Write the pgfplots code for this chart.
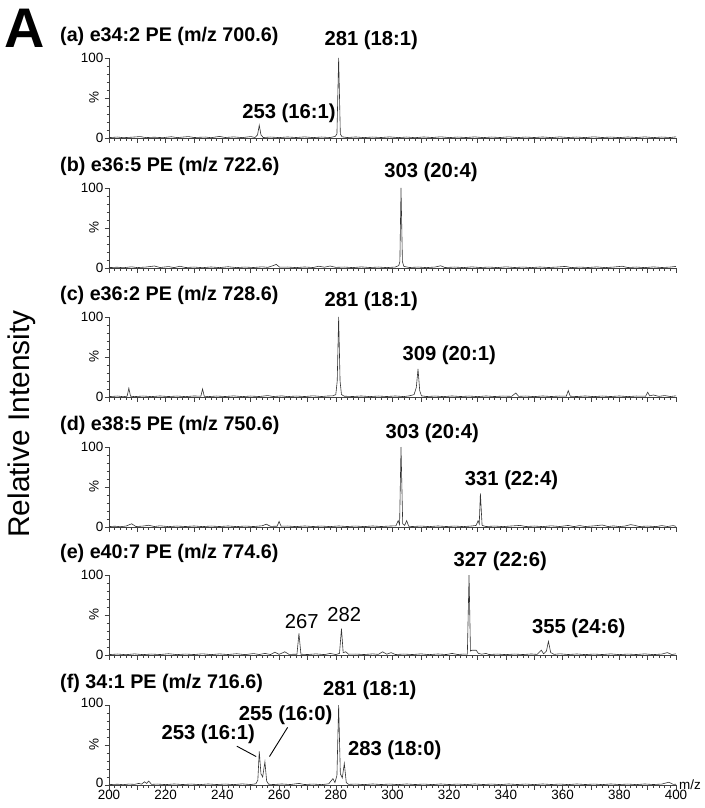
\documentclass[border=0pt]{standalone}
\usepackage{fontspec}
\setmainfont{Liberation Sans}
\usepackage{pgfplots}
\pgfplotsset{compat=1.18}
\newcommand{\lab}{\fontsize{20.3}{23}\selectfont}
\newcommand{\ttl}{\fontsize{19.8}{23}\selectfont}
\pgfplotsset{
  panel/.style={
    width=567bp, height=80bp, scale only axis,
    xmin=200, xmax=400, ymin=0, ymax=100,
    axis x line*=bottom, axis y line*=left,
    axis line style={line width=0.7bp, black!75},
    xtick={200,210,...,400}, minor x tick num=4,
    ytick={0,50,100}, minor y tick num=4,
    tick align=outside,
    major tick length=4.5bp, minor tick length=2.5bp,
    every tick/.style={line width=0.6bp, black!75},
    yticklabels={0,,100},
    xticklabels={},
    /pgf/number format/assume math mode=true,
    tick label style={font=\fontsize{13.5}{15}\selectfont, inner sep=1bp},
    ylabel={\%},
    ylabel style={at={(axis description cs:0,0.5)}, anchor=south, inner sep=0pt, yshift=10bp, font=\fontsize{13.5}{15}\selectfont},
    clip=false,
    anchor=south west,
  },
  spec/.style={line width=0.6bp, black!80, mark=none},
}
\begin{document}
\begin{tikzpicture}
\path[use as bounding box] (0,0) rectangle (705bp,-808bp);

% (a)
\begin{axis}[panel, at={(109bp,-138bp)}]
\addplot[spec] coordinates {(200,0.5)(203,1.2)(205,0.4)(208,1)(211,1.8)(213,0.5)(216,1)(219,0.4)(222,1.6)(224,0.5)(228,1.8)(230,0.6)(234,1.2)(236,0.4)(239,2)(241,0.6)(244,1.4)(247,0.5)(250,1.8)(251.5,0.6)(252.4,4)(253,16)(253.6,4)(254.4,0.6)(257,1.2)(260,0.5)(263,1.3)(266,0.6)(269,1.4)(272,0.5)(275,1.2)(278,0.6)(279.8,2)(280.4,5)(281,100)(281.6,5)(282.2,1.5)(284,0.6)(287,1.3)(290,0.5)(293,1.2)(296,0.6)(299,1.4)(302,0.5)(305,1.2)(308,0.4)(311,1.3)(314,0.6)(317,1.5)(320,0.5)(323,1.2)(326,0.6)(329,1.4)(332,0.5)(335,1.2)(338,0.6)(341,1.5)(344,0.5)(347,1.2)(350,0.6)(353,1.3)(356,0.5)(359,1.4)(362,0.6)(365,1.2)(368,0.5)(371,1.5)(374,0.6)(377,1.2)(380,0.5)(383,1.3)(386,0.6)(389,1.4)(392,0.5)(395,1.2)(398,0.6)(400,1.5)};
\node[font=\lab\bfseries] at (axis cs:292.5,122) {281 (18:1)};
\node[font=\lab\bfseries] at (axis cs:263.5,31) {253 (16:1)};
\end{axis}

% (b)
\begin{axis}[panel, at={(109bp,-268bp)}]
\addplot[spec] coordinates {(200,0.5)(203,1)(205,0.3)(208,1.5)(210,0.5)(213,1.2)(216,2.5)(218,0.6)(221,1.8)(223,0.5)(225,2.2)(227,0.6)(230,1.2)(233,0.4)(236,1.3)(239,0.5)(242,1.6)(245,0.5)(248,1.2)(251,0.6)(254,1.5)(256,0.8)(257.5,2.5)(259,4.5)(260.2,1)(263,1.2)(266,0.5)(269,1.3)(272,0.6)(274,2.2)(276,1)(278,2.5)(280,0.8)(283,1.2)(286,0.5)(289,1.4)(292,0.6)(295,1.2)(298,0.5)(301,1.2)(302.2,3)(302.6,8)(303,100)(303.5,8)(304,2)(306,0.6)(309,1.2)(312,0.5)(315,1.2)(317,2.8)(318.5,0.6)(322,1.2)(325,0.5)(328,1.4)(331,0.6)(334,1.2)(337,0.5)(340,1.5)(343,0.6)(346,1.2)(349,0.5)(352,1.3)(355,0.6)(358,1.2)(361,2)(363,0.5)(366,1.2)(369,0.6)(372,1.4)(375,0.5)(378,1.2)(381,2.2)(383,0.6)(386,1.2)(389,0.5)(392,1.4)(395,0.6)(398,1.2)(400,2)};
\node[font=\lab\bfseries] at (axis cs:313.6,120) {303 (20:4)};
\end{axis}

% (c)
\begin{axis}[panel, at={(109bp,-397bp)}]
\addplot[spec] coordinates {(200,0.5)(203,1.2)(205,0.4)(206.4,1)(207,11)(207.6,1)(209,0.5)(212,1.2)(215,0.5)(218,1.3)(221,0.6)(224,1.2)(227,0.5)(230,1.3)(232.4,1)(233,10)(233.6,1)(235,0.5)(238,1.2)(241,0.6)(244,1.4)(247,0.5)(250,1.2)(253,0.6)(256,1.8)(258,0.6)(261,1.4)(263,0.5)(266,1.2)(269,0.6)(272,1.5)(275,0.6)(277,1.2)(279,1.5)(280,3)(280.5,20)(281,100)(281.5,20)(282,3)(283,1)(286,0.6)(289,1.3)(292,0.5)(295,1.2)(298,0.6)(301,1.3)(304,0.5)(306,1.5)(307.6,3)(308.4,12)(309,35)(309.6,8)(310.2,1.5)(312,0.6)(315,1.2)(318,0.5)(321,1.3)(324,0.6)(327,1.2)(330,0.5)(333,1.3)(336,0.6)(339,1.2)(342,0.8)(343.5,5)(344.5,0.8)(347,1.2)(350,0.5)(353,1.3)(356,0.6)(359,1.2)(361.3,1)(362,8)(362.7,1)(365,0.6)(368,1.3)(371,0.5)(374,1.2)(377,0.6)(380,1.3)(383,0.5)(386,1.2)(389.3,1)(390,6)(390.7,1.5)(392,2.5)(394,0.8)(396,1.8)(398,0.6)(400,1.5)};
\node[font=\lab\bfseries] at (axis cs:292.5,120) {281 (18:1)};
\node[font=\lab\bfseries] at (axis cs:320,52) {309 (20:1)};
\end{axis}

% (d)
\begin{axis}[panel, at={(109bp,-527bp)}]
\addplot[spec] coordinates {(200,0.5)(202,1)(204,0.4)(206,1.2)(208,4)(209.5,0.6)(212,1.2)(214,2.2)(216,0.6)(218,1.5)(221,0.5)(224,1.2)(227,0.6)(230,1.3)(233,0.5)(236,1.2)(239,0.6)(242,1.3)(245,0.5)(248,1.2)(251,0.6)(254,1.5)(255.5,3.5)(257,0.8)(259.3,1)(260,7)(260.7,1)(263,1.2)(266,0.5)(269,1.3)(272,0.6)(275,1.2)(278,0.5)(281,1.3)(284,0.6)(287,1.2)(290,0.5)(293,1.3)(296,0.6)(299,1.2)(301.2,1.5)(302,8)(302.5,3)(303,100)(303.6,4)(304.3,2)(305,8)(305.7,1)(307,0.6)(310,1.2)(313,0.5)(316,1.3)(319,0.6)(322,1.2)(325,0.5)(328,1.3)(329.5,2)(330.2,8)(330.6,4)(331,42)(331.6,2)(333,0.6)(336,1.2)(339,0.5)(342,1.3)(345,2)(347,0.6)(350,1.2)(353,0.5)(356,1.5)(359,0.6)(362,2)(364,0.5)(366,1.8)(368,0.6)(371,1.4)(374,2.5)(376,0.6)(378,1.4)(380,0.5)(382,1.2)(384,3)(385.5,2)(387,0.6)(390,1.2)(393,0.5)(395,1.8)(397,0.6)(399,1.8)(400,0.8)};
\node[font=\lab\bfseries] at (axis cs:314,117) {303 (20:4)};
\node[font=\lab\bfseries] at (axis cs:342,58) {331 (22:4)};
\end{axis}

% (e)
\begin{axis}[panel, at={(109bp,-655bp)}]
\addplot[spec] coordinates {(200,0.5)(203,1.2)(206,0.4)(209,1.4)(212,0.5)(215,1.2)(218,0.6)(221,1.6)(224,0.5)(227,1.2)(230,0.6)(233,1.5)(236,0.5)(239,1.4)(242,0.6)(245,1.6)(248,0.5)(251,1.8)(253,0.6)(255,2)(257,0.6)(258.5,3.5)(260,0.8)(262,4)(263.5,0.8)(266.3,1)(267,27)(267.7,1)(270,0.6)(273,1.4)(276,0.5)(278,2)(280,0.6)(281.3,2)(282,33)(282.6,3)(283.5,4)(284.5,1)(287,1.2)(290,0.6)(293,1.4)(295,0.8)(296.5,4)(298,1)(299.5,3)(301,0.6)(304,1.2)(307,0.6)(310,1.4)(313,0.5)(316,1.3)(319,0.6)(321,2)(323,0.6)(325,1.2)(326.4,1)(327,100)(327.5,5)(328,6)(329.5,6)(330.3,2)(331.5,1)(333,2)(334,0.6)(337,1.2)(340,0.5)(343,1.2)(346,0.6)(349,1.3)(351,0.8)(352.5,6)(353.3,1.5)(354.3,5)(355,17)(355.8,3)(357,0.8)(359,1.5)(362,0.6)(365,1.3)(368,0.5)(371,1.2)(374,0.6)(377,1.4)(380,0.5)(383,1.2)(386,0.6)(389,1.4)(392,0.5)(395,1.2)(397,3)(398.5,0.6)(400,1.5)};
\node[font=\lab] at (axis cs:268,42) {267};
\node[font=\lab] at (axis cs:283,50) {282};
\node[font=\lab\bfseries] at (axis cs:338,117) {327 (22:6)};
\node[font=\lab\bfseries] at (axis cs:365.7,33) {355 (24:6)};
\end{axis}

% (f)
\begin{axis}[panel, at={(109bp,-785bp)},
  xticklabels={200,,220,,240,,260,,280,,300,,320,,340,,360,,380,,400},
  xticklabel style={inner sep=0.5bp},
  yticklabel style={yshift=2bp}]
\addplot[spec] coordinates {(200,0.5)(203,1)(205,0.4)(207,1.2)(209,0.8)(210.5,2)(211.5,1)(212.5,4)(213.3,2)(214,5)(215,0.8)(217,1.2)(220,0.5)(223,1.3)(226,0.6)(229,1.2)(232,0.5)(235,1.3)(238,0.6)(241,1.2)(244,0.5)(247,1.4)(250,0.6)(251.8,1.5)(252.5,6)(253,42)(253.6,14)(254.2,10)(255,29)(255.6,5)(256.3,1)(258,0.6)(261,1.3)(264,0.6)(267,2)(269,0.6)(272,1.2)(275,0.5)(277.5,1.5)(279,8)(279.7,3)(280.4,12)(281,100)(281.6,14)(282.3,9)(283,27)(283.7,3)(284.5,0.8)(287,1.2)(290,0.5)(293,1.3)(296,0.6)(299,1.2)(302,0.5)(305,1.3)(308,0.6)(311,1.2)(314,0.5)(317,1.3)(320,0.6)(323,1.2)(326,0.5)(329,1.3)(332,0.6)(335,1.2)(338,0.5)(341,1.3)(344,0.6)(347,1.2)(350,0.5)(353,1.3)(356,0.6)(359,1.2)(362,0.5)(365,1.3)(368,0.6)(371,1.2)(374,0.5)(377,1.3)(380,0.6)(383,1.2)(386,0.5)(389,1.3)(392,0.6)(395,1.2)(397.5,3.5)(399,0.8)(400,1)};
\node[font=\lab\bfseries] at (axis cs:292,118) {281 (18:1)};
\node[font=\lab\bfseries] at (axis cs:262.3,87) {255 (16:0)};
\node[font=\lab\bfseries] at (axis cs:235,63.5) {253 (16:1)};
\node[font=\lab\bfseries] at (axis cs:300.8,44) {283 (18:0)};
\draw[line width=0.9bp, black] (axis cs:245.1,48.5) -- (axis cs:251.9,35.6);
\draw[line width=0.9bp, black] (axis cs:263,72) -- (axis cs:256.6,35.6);
\node[anchor=west, font=\fontsize{13.5}{15}\selectfont, inner sep=0pt, xshift=3bp] at (axis cs:400,1) {m/z};
\end{axis}

% titles
\begin{scope}[every node/.style={anchor=base west, inner sep=0pt, font=\ttl\bfseries}]
\node at (60bp,-41bp) {(a) e34:2 PE (m/z 700.6)};
\node at (60bp,-171bp) {(b) e36:5 PE (m/z 722.6)};
\node at (60bp,-300bp) {(c) e36:2 PE (m/z 728.6)};
\node at (60bp,-430bp) {(d) e38:5 PE (m/z 750.6)};
\node at (60bp,-558bp) {(e) e40:7 PE (m/z 774.6)};
\node at (60bp,-688bp) {(f) 34:1 PE (m/z 716.6)};
\end{scope}
\node[anchor=base west, inner sep=0pt, font=\fontsize{56}{60}\selectfont\bfseries] at (4bp,-47bp) {A};
\node[rotate=90, inner sep=0pt, font=\fontsize{30}{33}\selectfont] at (22bp,-424bp) {Relative Intensity};
\end{tikzpicture}
\end{document}
